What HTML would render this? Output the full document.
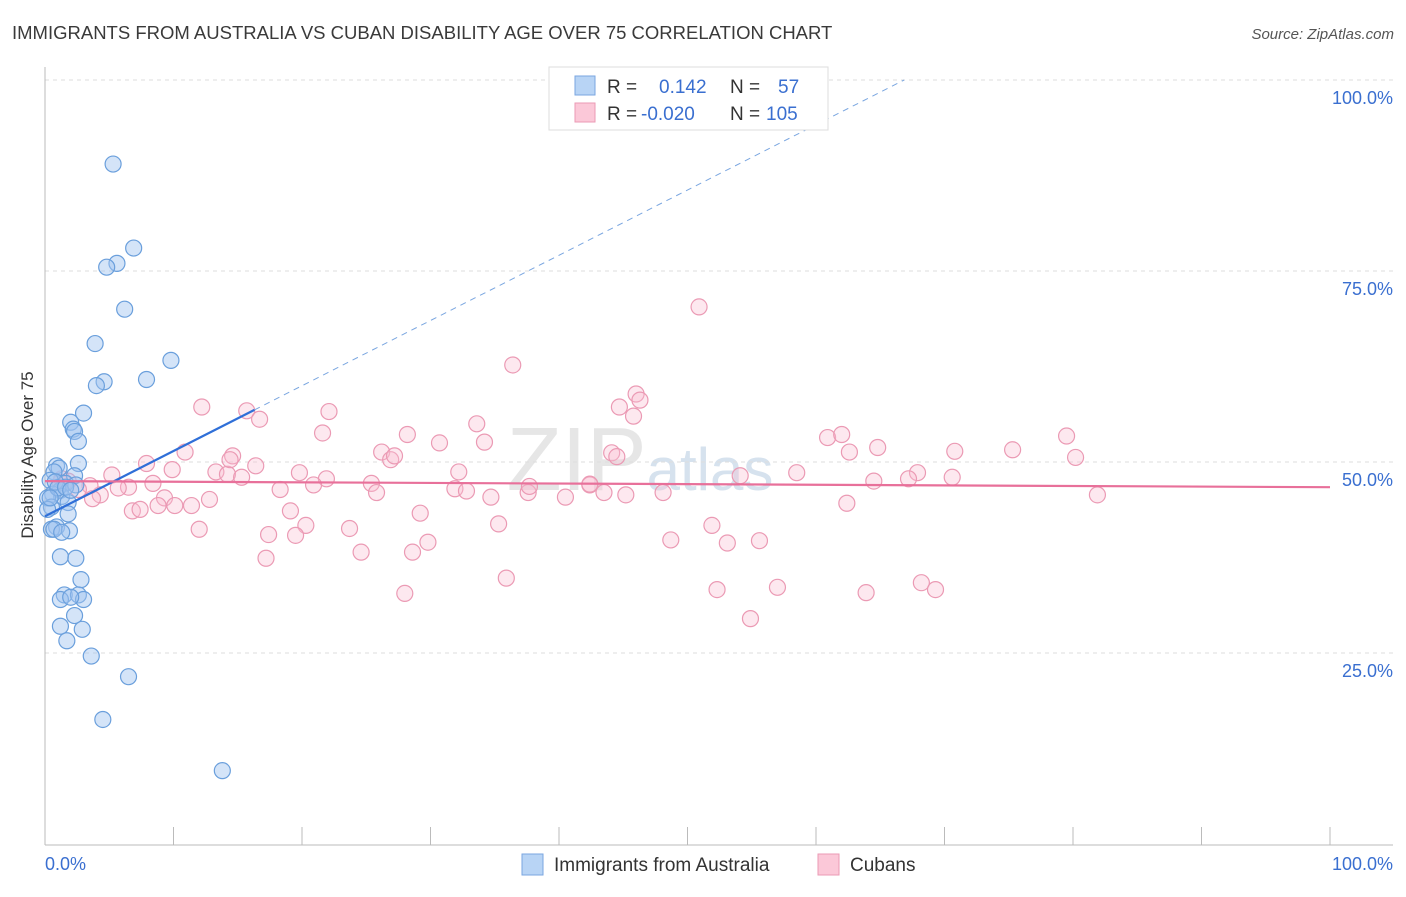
<!DOCTYPE html>
<html><head><meta charset="utf-8"><style>
body{margin:0;background:#fff;font-family:"Liberation Sans",sans-serif}
svg text{font-family:"Liberation Sans",sans-serif}
</style></head><body>
<svg id="chart" width="1406" height="892" viewBox="0 0 1406 892" xmlns="http://www.w3.org/2000/svg">
<text x="12" y="39" font-size="18.5" fill="#3a3a3a">IMMIGRANTS FROM AUSTRALIA VS CUBAN DISABILITY AGE OVER 75 CORRELATION CHART</text>
<text x="1394" y="39" font-size="15" fill="#555" font-style="italic" text-anchor="end">Source: ZipAtlas.com</text>
<text x="640" y="490" font-size="90" fill="#e6e6e6" text-anchor="middle" font-family="Liberation Serif">ZIP<tspan font-size="60" font-family="Liberation Sans" fill="#d6e2ee">atlas</tspan></text>
<g id="grid"></g>
<line x1="45" y1="67" x2="45" y2="845" stroke="#bbb"/>
<line x1="45" y1="845" x2="1393" y2="845" stroke="#bbb"/>
<g id="xticks"></g>
<g id="ylabels"></g>
<text x="45" y="870" font-size="18" fill="#3a6fd0">0.0%</text>
<text x="1393" y="870" font-size="18" fill="#3a6fd0" text-anchor="end">100.0%</text>
<text transform="translate(33,455) rotate(-90)" font-size="17" fill="#333" text-anchor="middle">Disability Age Over 75</text>
<g id="pink"></g>
<g id="blue"></g>
<g id="lines"></g>
<g>
<rect x="549" y="67" width="279" height="63" fill="#fff" stroke="#ddd"/>
<rect x="575" y="76" width="20" height="19" fill="#b8d4f5" stroke="#7aa6e0"/>
<rect x="575" y="103" width="20" height="19" fill="#fbc8d8" stroke="#eb9ab4"/>
<text x="607" y="93" font-size="19" fill="#333">R = <tspan x="659" fill="#3a6fd0">0.142</tspan><tspan x="730" fill="#333">N = </tspan><tspan x="778" fill="#3a6fd0">57</tspan></text>
<text x="607" y="120" font-size="19" fill="#333">R = <tspan x="641" fill="#3a6fd0">-0.020</tspan><tspan x="730" fill="#333">N = </tspan><tspan x="766" fill="#3a6fd0">105</tspan></text>
</g>
<g>
<rect x="522" y="854" width="21" height="21" fill="#b8d4f5" stroke="#7aa6e0"/>
<text x="554" y="871" font-size="19" fill="#333">Immigrants from Australia</text>
<rect x="818" y="854" width="21" height="21" fill="#fbc8d8" stroke="#eb9ab4"/>
<text x="850" y="871" font-size="19" fill="#333">Cubans</text>
</g>
</svg>
<script>
const yTicks=[25,50,75,100];
const xTicks=[0,10,20,30,40,50,60,70,80,90,100];
const blueX=[5.3,6.9,5.6,4.8,6.2,3.9,9.8,7.9,4.6,4.0,3.0,2.0,2.2,2.3,2.6,2.6,0.9,1.1,0.7,2.3,0.4,1.6,2.4,1.2,0.6,1.3,0.2,1.8,0.5,0.2,1.8,0.9,0.5,0.7,1.9,1.3,1.2,2.4,2.8,1.5,2.6,1.2,3.0,2.0,2.3,1.2,2.9,1.7,3.6,6.5,4.5,13.8,0.8,1.0,1.6,0.4,2.0];
const blueY=[89,78,76,75.5,70,65.5,63.3,60.8,60.5,60,56.4,55.2,54.3,54,52.7,49.8,49.5,49.2,48.7,48.2,47.6,47.2,47,46.3,45.8,45.5,45.3,44.7,44.1,43.8,43.2,41.5,41.2,41.2,41,40.8,37.6,37.4,34.6,32.6,32.6,32,32,32.3,29.9,28.5,28.1,26.6,24.6,21.9,16.3,9.6,47.4,46.6,46.7,45.3,46.3];
const pinkX=[50.9,36.4,46,12.2,15.7,22.1,16.7,44.7,45.8,33.6,21.6,28.2,30.7,34.2,60.9,62,64.8,10.9,14.6,26.2,26.9,44.1,44.5,62.6,70.8,75.3,79.5,80.2,7.9,9.9,16.4,13.3,14.2,15.3,19.8,21.9,32.2,54.1,58.5,64.5,67.9,67.2,70.6,5.2,6.5,8.4,5.7,4.3,3.5,1.2,2.6,3.7,9.3,12.8,18.3,20.9,25.4,25.8,31.9,32.8,34.7,37.6,37.7,40.5,42.4,43.5,45.2,48.1,81.9,8.8,10.1,11.4,62.4,19.1,29.2,20.3,12,17.4,19.5,23.7,35.3,51.9,48.7,53.1,55.6,29.8,24.6,28.6,17.2,35.9,68.2,28,52.3,57,63.9,69.3,54.9,6.8,7.4,1.3,1.8,14.4,27.2,42.4,46.3];
const pinkY=[70.3,62.7,58.9,57.2,56.7,56.6,55.6,57.2,56,55,53.8,53.6,52.5,52.6,53.2,53.6,51.9,51.3,50.8,51.3,50.3,51.2,50.7,51.3,51.4,51.6,53.4,50.6,49.8,49,49.5,48.7,48.4,48,48.6,47.8,48.7,48.2,48.6,47.5,48.6,47.8,48,48.3,46.7,47.2,46.6,45.7,46.9,47.3,46.4,45.2,45.3,45.1,46.4,47,47.2,46,46.5,46.2,45.4,46,46.8,45.4,47,46,45.7,46,45.7,44.3,44.3,44.3,44.6,43.6,43.3,41.7,41.2,40.5,40.4,41.3,41.9,41.7,39.8,39.4,39.7,39.5,38.2,38.2,37.4,34.8,34.2,32.8,33.3,33.6,32.9,33.3,29.5,43.6,43.8,47.8,47.5,50.3,50.8,47.1,58.1];
const X=v=>45+v*12.85, Y=v=>844-v*7.64, NS="http://www.w3.org/2000/svg";
function mk(p,t,a){const e=document.createElementNS(NS,t);for(const k in a)e.setAttribute(k,a[k]);document.getElementById(p).appendChild(e);return e;}
yTicks.forEach(t=>{
const g=mk('grid','line',{x1:45,x2:1393,y1:Y(t),y2:Y(t),stroke:'#ddd','stroke-dasharray':'4,4'});


const l=mk('ylabels','text',{x:1393,y:Y(t)+24,'font-size':18,fill:'#3a6fd0','text-anchor':'end'});
l.textContent=t.toFixed(1)+'%';


});
xTicks.forEach(t=>{const e=mk('xticks','line',{x1:X(t),x2:X(t),y1:827,y2:845,stroke:'#bbb'});

});
pinkX.forEach((v,i)=>{const c=mk('pink','circle',{cx:X(v),cy:Y(pinkY[i]),r:8,fill:'rgba(248,190,208,0.35)',stroke:'#eb9ab4','stroke-width':1.2});

});
blueX.forEach((v,i)=>{const c=mk('blue','circle',{cx:X(v),cy:Y(blueY[i]),r:8,fill:'rgba(160,196,240,0.45)',stroke:'#6a9fdc','stroke-width':1.2});

});
const bI=42.9,bS=0.854,pI=47.5,pS=-0.008;
let l1=mk('lines','line',{x1:X(16.3),y1:Y(bI+bS*16.3),x2:X((100-bI)/bS),y2:Y(100),stroke:'#7aa6e0','stroke-dasharray':'6,5','stroke-width':1});


let l2=mk('lines','line',{x1:X(0),y1:Y(bI),x2:X(16.3),y2:Y(bI+bS*16.3),stroke:'#2f6fd8','stroke-width':2.2});


let l3=mk('lines','line',{x1:X(0),y1:Y(pI),x2:X(100),y2:Y(pI+pS*100),stroke:'#e8709a','stroke-width':2.2});


</script>
</body></html>
